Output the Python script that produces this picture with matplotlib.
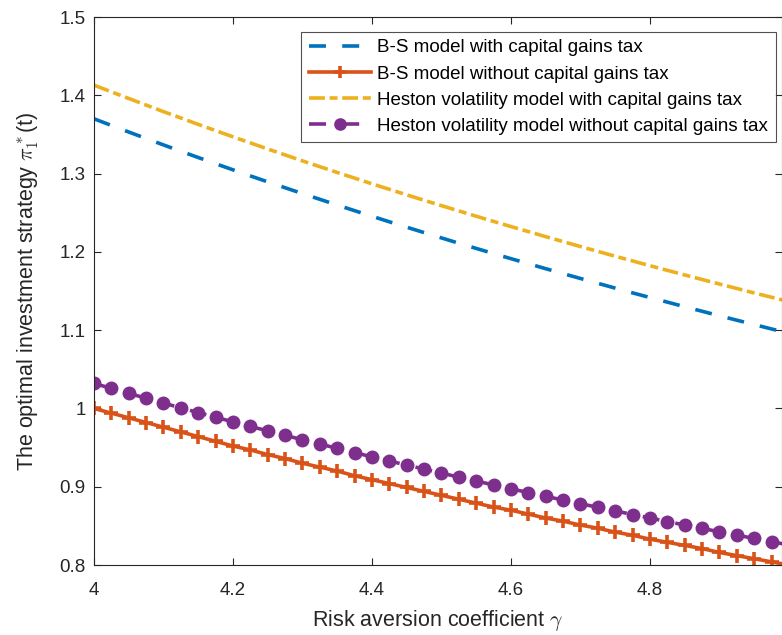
import matplotlib
matplotlib.use("Agg")
import matplotlib.pyplot as plt

plt.rcParams['font.family'] = ['Liberation Sans', 'DejaVu Sans']
plt.rcParams['mathtext.fontset'] = 'cm'

gamma = [4.000, 4.025, 4.050, 4.075, 4.100, 4.125, 4.150, 4.175, 4.200, 4.225,
         4.250, 4.275, 4.300, 4.325, 4.350, 4.375, 4.400, 4.425, 4.450, 4.475,
         4.500, 4.525, 4.550, 4.575, 4.600, 4.625, 4.650, 4.675, 4.700, 4.725,
         4.750, 4.775, 4.800, 4.825, 4.850, 4.875, 4.900, 4.925, 4.950, 4.975,
         5.000]

bs_tax = [1.3700, 1.3615, 1.3531, 1.3448, 1.3366, 1.3285, 1.3205, 1.3126, 1.3048, 1.2970,
          1.2894, 1.2819, 1.2744, 1.2671, 1.2598, 1.2526, 1.2455, 1.2384, 1.2315, 1.2246,
          1.2178, 1.2110, 1.2044, 1.1978, 1.1913, 1.1849, 1.1785, 1.1722, 1.1660, 1.1598,
          1.1537, 1.1476, 1.1417, 1.1358, 1.1299, 1.1241, 1.1184, 1.1127, 1.1071, 1.1015,
          1.0960]

bs_notax = [1.000, 0.994, 0.988, 0.982, 0.976, 0.970, 0.964, 0.958, 0.952, 0.947,
            0.941, 0.936, 0.930, 0.925, 0.920, 0.914, 0.909, 0.904, 0.899, 0.894,
            0.889, 0.884, 0.879, 0.874, 0.870, 0.865, 0.860, 0.856, 0.851, 0.847,
            0.842, 0.838, 0.833, 0.829, 0.825, 0.821, 0.816, 0.812, 0.808, 0.804,
            0.800]

heston_tax = [1.4130, 1.4044, 1.3959, 1.3875, 1.3791, 1.3710, 1.3628, 1.3549, 1.3469, 1.3392,
              1.3314, 1.3238, 1.3162, 1.3088, 1.3014, 1.2942, 1.2869, 1.2799, 1.2728, 1.2659,
              1.2590, 1.2523, 1.2455, 1.2389, 1.2323, 1.2259, 1.2194, 1.2131, 1.2068, 1.2006,
              1.1944, 1.1884, 1.1823, 1.1764, 1.1705, 1.1647, 1.1589, 1.1532, 1.1475, 1.1420,
              1.1364]

heston_notax = [1.0320, 1.0256, 1.0193, 1.0130, 1.0068, 1.0007, 0.9947, 0.9887, 0.9829, 0.9770,
                0.9713, 0.9656, 0.9600, 0.9545, 0.9490, 0.9435, 0.9382, 0.9329, 0.9276, 0.9225,
                0.9173, 0.9123, 0.9073, 0.9023, 0.8974, 0.8925, 0.8877, 0.8830, 0.8783, 0.8737,
                0.8691, 0.8645, 0.8600, 0.8555, 0.8511, 0.8468, 0.8424, 0.8382, 0.8339, 0.8297,
                0.8256]

labels = ['B-S model with capital gains tax',
          'B-S model without capital gains tax',
          'Heston volatility model with capital gains tax',
          'Heston volatility model without capital gains tax']

xticks = [4.0, 4.2, 4.4, 4.6, 4.8]
xticklabels = ['4', '4.2', '4.4', '4.6', '4.8']
yticks = [0.8, 0.9, 1.0, 1.1, 1.2, 1.3, 1.4, 1.5]
yticklabels = ['0.8', '0.9', '1', '1.1', '1.2', '1.3', '1.4', '1.5']

c_blue = '#0072BD'
c_orange = '#D95319'
c_yellow = '#EDB120'
c_purple = '#7E2F8E'
axcol = '#262626'

fig = plt.figure(figsize=(7.82, 6.35), dpi=100)
ax = fig.add_axes([94 / 782, 70 / 635, 688 / 782, 548 / 635])

lw = 2.6
l1, = ax.plot(gamma, bs_tax, color=c_blue, lw=lw, label=labels[0], dash_capstyle='butt')
l1.set_dashes((4.7, 4.5))
l2, = ax.plot(gamma, bs_notax, color=c_orange, lw=lw, marker='+', markersize=9.5,
              markeredgewidth=2.6, label=labels[1])
l3, = ax.plot(gamma, heston_tax, color=c_yellow, lw=lw, label=labels[2], dash_capstyle='butt')
l3.set_dashes((4.4, 1.3, 2.2, 1.3))
l4, = ax.plot(gamma, heston_notax, color=c_purple, lw=lw, marker='o', markersize=9,
              markerfacecolor=c_purple, markeredgecolor=c_purple, label=labels[3],
              dash_capstyle='butt')
l4.set_dashes((4.7, 4.5))

ax.set_xlim(4.0, 4.99)
ax.set_ylim(0.8, 1.5)
ax.set_xticks(xticks)
ax.set_xticklabels(xticklabels)
ax.set_yticks(yticks)
ax.set_yticklabels(yticklabels)

ax.tick_params(direction='in', length=5, width=0.8, colors=axcol, labelsize=13.5,
               top=True, right=True)
ax.tick_params(axis='x', pad=12)
ax.tick_params(axis='y', pad=6)
for s in ax.spines.values():
    s.set_color(axcol)
    s.set_linewidth(0.8)

ax.set_xlabel(r'Risk aversion coefficient $\gamma$', fontsize=15.5, color=axcol, labelpad=7)
ax.set_ylabel(r'The optimal investment strategy $\pi^*_1$(t)', fontsize=15.5, color=axcol,
              labelpad=13)

leg = ax.legend(loc='upper right', bbox_to_anchor=(0.991, 0.973), fontsize=13.5,
                frameon=True, fancybox=False, handlelength=3.3, borderpad=0.4,
                labelspacing=0.48, handletextpad=0.35, borderaxespad=0.0,
                markerscale=0.9)
leg.get_frame().set_edgecolor(axcol)
leg.get_frame().set_linewidth(0.8)
for t in leg.get_texts():
    t.set_color('black')

fig.savefig('out.png', dpi=100)
